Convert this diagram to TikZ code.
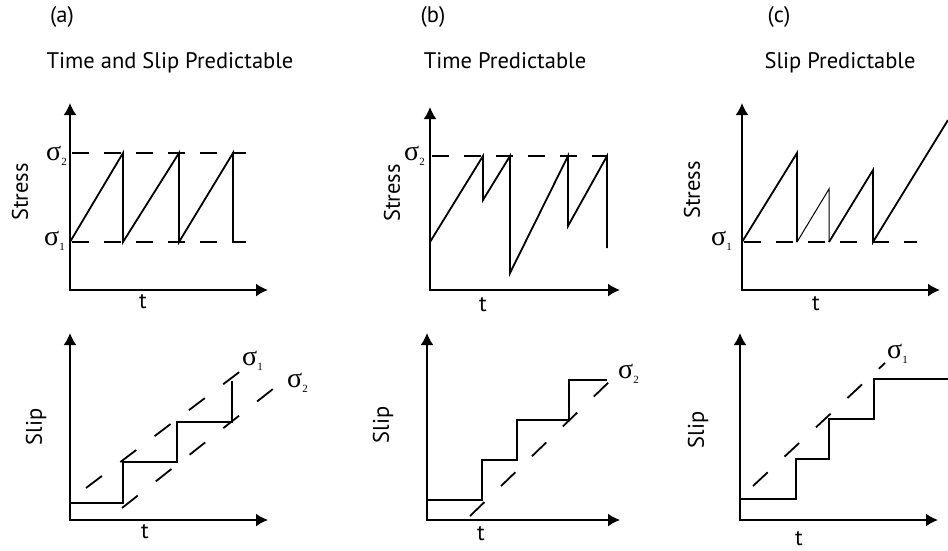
\documentclass[tikz,border=0pt]{standalone}
\usepackage{fontspec}
\setmainfont{PT Sans}
\newfontfamily\sigfont{Liberation Serif}
\usetikzlibrary{arrows.meta}
\newcommand{\sg}[1]{{\fontsize{28}{28}\sigfont σ}\raisebox{-5pt}{\fontsize{11}{11}\sigfont #1}}
\tikzset{
  axes/.style={line width=1.8pt,line join=miter,{Latex[length=12pt,width=13pt]}-{Latex[length=12pt,width=13pt]}},
  curve/.style={line width=1.8pt,line join=miter},
  thincurve/.style={line width=1pt},
  level/.style={line width=1.8pt,dash pattern=on 17pt off 15pt},
  trend/.style={line width=1.8pt,dash pattern=on 20pt off 23pt},
  lbl/.style={font=\fontsize{22.5}{26}\selectfont,inner sep=0pt},
  sig/.style={inner sep=0pt}
}
\begin{document}
\begin{tikzpicture}[x=1pt,y=-1pt,>=Latex]
  \useasboundingbox (0,0) rectangle (948,550);
  % (a) time and slip predictable
  \node[lbl,anchor=base] (a-tag) at (62,22) {(a)};
  \node[lbl,anchor=base] (a-title) at (170,68) {Time and Slip Predictable};
  \draw[axes] (70,103) |- (268,290);
  \draw[level] (72,153) -- (246,153); \draw[level] (72,242) -- (246,242);
  \draw[curve] (70,242) -- (123,153) -- (123,242) -- (179,153) -- (179,242) -- (233,153) -- (233,242);
  \node[sig,anchor=base east] (a-s2) at (67,160) {\sg{2}};
  \node[sig,anchor=base east] (a-s1) at (65,245) {\sg{1}};
  \node[lbl,rotate=90] (a-stress) at (20,192) {Stress};
  \node[lbl,anchor=base] (a-t) at (143,308) {t};
  \draw[axes] (70,333) |- (268,520);
  \draw[trend] (86,488) -- (242,370); \draw[trend] (122,508) -- (278,385);
  \draw[curve] (70,503) -- (123,503) -- (123,462) -- (177,462) -- (177,422) -- (232,422) -- (232,381);
  \node[sig,anchor=base west] (a-t1) at (242,365) {\sg{1}};
  \node[sig,anchor=base west] (a-t2) at (287,387) {\sg{2}};
  \node[lbl,rotate=90] (a-slip) at (36,427) {Slip};
  \node[lbl,anchor=base] (a-tt) at (145,538) {t};
  % (b) time predictable
  \node[lbl,anchor=base] (b-tag) at (433,22) {(b)};
  \node[lbl,anchor=base] (b-title) at (505,68) {Time Predictable};
  \draw[axes] (430,107) |- (620,290);
  \draw[level] (432,156) -- (607,156);
  \draw[curve] (430,242) -- (483,156) -- (483,200) -- (510,156) -- (510,273) -- (568,156) -- (568,226) -- (607,156) -- (607,248);
  \node[sig,anchor=base east] (b-s2) at (425,160) {\sg{2}};
  \node[lbl,rotate=90] (b-stress) at (392,193) {Stress};
  \node[lbl,anchor=base] (b-t) at (483,311) {t};
  \draw[axes] (427,333) |- (620,520);
  \draw[trend] (470,516) -- (612,379);
  \draw[curve] (427,500) -- (482,500) -- (482,460) -- (517,460) -- (517,420) -- (569,420) -- (569,380) -- (607,380);
  \node[sig,anchor=base west] (b-t2) at (618,378) {\sg{2}};
  \node[lbl,rotate=90] (b-slip) at (383,425) {Slip};
  \node[lbl,anchor=base] (b-tt) at (481,540) {t};
  % (c) slip predictable
  \node[lbl,anchor=base] (c-tag) at (779,22) {(c)};
  \node[lbl,anchor=base] (c-title) at (840,68) {Slip Predictable};
  \draw[axes] (742,103) |- (940,290);
  \draw[level] (744,242) -- (917,242);
  \draw[curve] (742,242) -- (797,153) -- (797,242);
  \draw[thincurve] (797,242) -- (829,189) -- (829,242);
  \draw[curve] (829,242) -- (873,170) -- (873,242) -- (948,120);
  \node[sig,anchor=base east] (c-s1) at (732,245) {\sg{1}};
  \node[lbl,rotate=90] (c-stress) at (692,190) {Stress};
  \node[lbl,anchor=base] (c-t) at (816,310) {t};
  \draw[axes] (740,333) |- (938,520);
  \draw[trend] (753,486) -- (885,363);
  \draw[curve] (740,499) -- (796,499) -- (796,459) -- (829,459) -- (829,419) -- (874,419) -- (874,379) -- (948,379);
  \node[sig,anchor=base west] (c-t1) at (887,358) {\sg{1}};
  \node[lbl,rotate=90] (c-slip) at (698,430) {Slip};
  \node[lbl,anchor=base] (c-tt) at (799,545) {t};
\end{tikzpicture}
\end{document}
